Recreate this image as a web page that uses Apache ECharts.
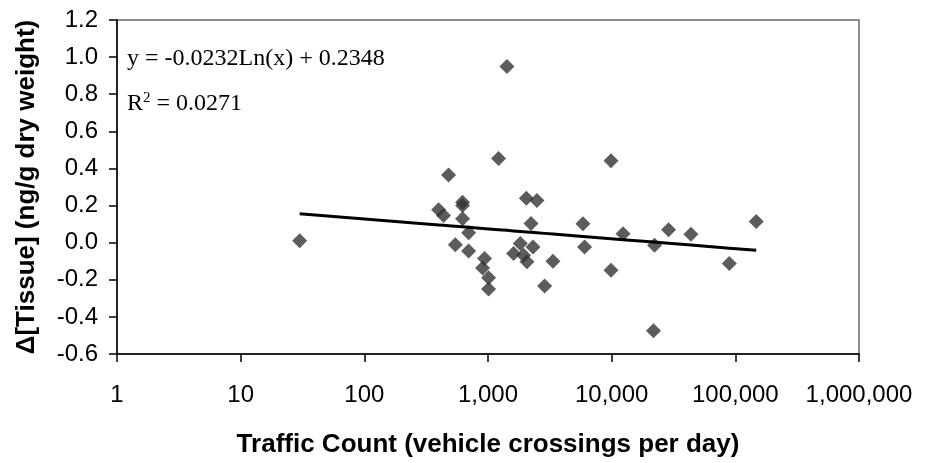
<!DOCTYPE html>
<html>
<head>
<meta charset="utf-8">
<script src="https://cdn.jsdelivr.net/npm/echarts@6/dist/echarts.min.js"></script>
<style>
  html, body { margin: 0; padding: 0; background: #fff; }
  #chart { width: 925px; height: 463px; }
</style>
</head>
<body>
<div id="chart"></div>
<script>
// Traffic count (vehicle crossings per day) at each site
const trafficCount = [
  30, 399, 437, 480, 544, 623, 623, 623, 697, 697,
  938, 904, 1011, 1011, 1218, 1423, 2041, 2488, 2228, 1824,
  1611, 1940, 2066, 2312, 3350, 2870, 5860, 6040, 9880, 9880,
  12360, 22230, 21800, 28840, 43750, 89400, 147600
];
// Change in tissue concentration (ng/g dry weight)
const deltaTissue = [
  0.01, 0.177, 0.146, 0.364, -0.011, 0.218, 0.200, 0.129, 0.054, -0.045,
  -0.086, -0.136, -0.189, -0.250, 0.454, 0.950, 0.239, 0.227, 0.103, -0.005,
  -0.059, -0.068, -0.103, -0.023, -0.100, -0.234, 0.102, -0.023, 0.441, -0.148,
  0.048, -0.014, -0.475, 0.070, 0.045, -0.112, 0.114
];
// Logarithmic fit coefficients: y = a·ln(x) + b
const fitA = -0.0232;
const fitB = 0.2348;
const fitR2 = 0.0271;
const xTicks = [1, 10, 100, 1000, 10000, 100000, 1000000];

const points = trafficCount.map((x, i) => [x, deltaTissue[i]]);
const fitLine = [...trafficCount].sort((a, b) => a - b)
  .map(x => [x, fitA * Math.log(x) + fitB]);

const chart = echarts.init(document.getElementById('chart'), null, { renderer: 'canvas' });
const labelFont = 'Arial, "Liberation Sans", sans-serif';
const serifFont = '"Liberation Serif", "Times New Roman", serif';

chart.setOption({
  animation: false,
  backgroundColor: '#ffffff',
  grid: {
    left: 117, top: 20, right: 66, bottom: 107,
    show: true, borderColor: '#8c8c8c', borderWidth: 2, backgroundColor: '#ffffff'
  },
  xAxis: {
    type: 'log',
    logBase: 10,
    min: xTicks[0],
    max: xTicks[xTicks.length - 1],
    name: 'Traffic Count (vehicle crossings per day)',
    nameLocation: 'middle',
    nameGap: 78,
    nameTextStyle: { fontFamily: labelFont, fontWeight: 'bold', fontSize: 26, color: '#000' },
    axisLine: { onZero: false, lineStyle: { color: '#000', width: 1.5 } },
    axisTick: { inside: false, length: 8, lineStyle: { color: '#000', width: 1.5 } },
    minorTick: { show: false },
    splitLine: { show: false },
    axisLabel: {
      margin: 29,
      fontFamily: labelFont, fontSize: 24, color: '#000',
      formatter: v => Math.round(v).toLocaleString('en-US')
    }
  },
  yAxis: {
    type: 'value',
    min: -0.6, max: 1.2, interval: 0.2,
    name: 'Δ[Tissue] (ng/g dry weight)',
    nameLocation: 'middle',
    nameGap: 77,
    nameRotate: 90,
    nameTextStyle: { fontFamily: labelFont, fontWeight: 'bold', fontSize: 26, color: '#000' },
    axisLine: { show: true, onZero: false, lineStyle: { color: '#000', width: 1.5 } },
    axisTick: { show: true, inside: false, length: 8, lineStyle: { color: '#000', width: 1.5 } },
    splitLine: { show: false },
    axisLabel: {
      margin: 19,
      fontFamily: labelFont, fontSize: 24, color: '#000',
      formatter: v => v.toFixed(1)
    }
  },
  series: [
    {
      name: 'Δ[Tissue]',
      type: 'scatter',
      symbol: 'diamond',
      symbolSize: 15,
      itemStyle: { color: '#333333' },
      data: points,
      z: 3
    },
    {
      name: 'Log fit',
      type: 'line',
      showSymbol: false,
      symbol: 'none',
      lineStyle: { color: '#000', width: 3 },
      data: fitLine,
      z: 4
    }
  ],
  graphic: [
    {
      type: 'text',
      left: 127, top: 47,
      style: {
        text: 'y = ' + fitA.toFixed(4) + 'Ln(x) + ' + fitB.toFixed(4),
        font: '24px ' + serifFont,
        fill: '#000'
      }
    },
    {
      type: 'text',
      left: 127, top: 91,
      style: {
        text: '{r|R}{s|2}{r| = ' + fitR2.toFixed(4) + '}',
        rich: {
          r: { font: '24px ' + serifFont, fill: '#000', verticalAlign: 'bottom' },
          s: { font: '15px ' + serifFont, fill: '#000', verticalAlign: 'top', padding: [0, 0, 10, 0] }
        }
      }
    }
  ]
});
</script>
</body>
</html>
